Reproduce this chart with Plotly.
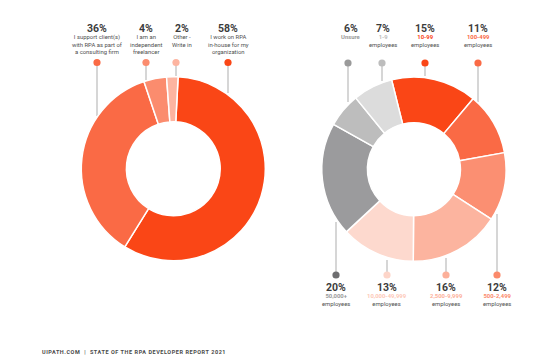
import plotly.graph_objects as go

# ---------------- data ----------------
role_values = [58, 36, 4, 2]
role_pct_text = ["58%", "36%", "4%", "2%"]
role_desc = [
    ["I work on RPA", "in-house for my", "organization"],
    ["I support client(s)", "with RPA as part of", "a consulting firm"],
    ["I am an", "independent", "freelancer"],
    ["Other -", "Write in"],
]
role_colors = ["#FA4616", "#FA6A45", "#FB8C6E", "#FDB4A0"]
role_dot_colors = ["#FA4616", "#FA6A45", "#FB8C6E", "#FDB4A0"]

size_values = [15, 11, 12, 16, 13, 20, 6, 7]
size_pct_text = ["15%", "11%", "12%", "16%", "13%", "20%", "6%", "7%"]
size_ranges = ["10-99", "100-499", "500-2,499", "2,500-9,999",
               "10,000-49,999", "50,000+", "Unsure", "1-9"]
size_unit = ["employees"] * 6 + [""] + ["employees"]
size_colors = ["#FA4616", "#FA6A45", "#FB8F72", "#FCB49F",
               "#FDD9CE", "#9B9B9D", "#BDBDBD", "#DCDCDC"]
size_dot_colors = ["#FA4616", "#FA6A45", "#FB8A6B", "#FCB09A",
                   "#FDD5C9", "#6E6E70", "#9A9A9A", "#BDBDBD"]
size_range_colors = ["#FA4616", "#FA6A45", "#FB8A6B", "#FCB09A",
                     "#FDC9B8", "#9A9A9A", "#9A9A9A", "#BDBDBD"]

footer = "UIPATH.COM  |  STATE OF THE RPA DEVELOPER REPORT 2021"

# ---------------- layout (pixels) ----------------
W, H = 554, 361
FONT = "Roboto"


def px(x):
    return x / W


def py(y):
    return 1 - y / H


# label placement: (text x, dot x, dot y, line end y, side)
role_place = [
    (228, 228, 62.5, 93, "top"),
    (97, 97, 62.5, 116, "top"),
    (146, 146, 62.5, 80, "top"),
    (182, 176, 62.5, 78, "top"),
]
size_place = [
    (425, 425, 63, 76, "top"),
    (478, 478, 63, 102, "top"),
    (497, 497, 275, 214, "bottom"),
    (446, 446, 275, 258, "bottom"),
    (387, 387, 275, 260, "bottom"),
    (336, 336, 275, 222, "bottom"),
    (351, 348, 63, 102, "top"),
    (383, 382, 63, 81, "top"),
]

fig = go.Figure()

fig.add_trace(go.Pie(
    values=role_values,
    marker=dict(colors=role_colors, line=dict(color="white", width=1.5)),
    hole=0.51, sort=False, direction="clockwise", rotation=3,
    textinfo="none", hoverinfo="skip", showlegend=False,
    domain=dict(x=[px(81.3), px(265.3)], y=[py(260.7), py(76.7)]),
))
fig.add_trace(go.Pie(
    values=size_values,
    marker=dict(colors=size_colors, line=dict(color="white", width=1.5)),
    hole=0.505, sort=False, direction="clockwise", rotation=-14,
    textinfo="none", hoverinfo="skip", showlegend=False,
    domain=dict(x=[px(321.8), px(506)], y=[py(261.5), py(77)]),
))

shapes = []
annotations = []
DOT_R = 3.6
DESC_SIZE = 5.9


def add_leader(dx, dy, ey, color):
    shapes.append(dict(type="line", xref="paper", yref="paper",
                       x0=px(dx), x1=px(dx), y0=py(dy), y1=py(ey),
                       line=dict(color="#C8C8C8", width=1.5), layer="below"))
    shapes.append(dict(type="circle", xref="paper", yref="paper",
                       x0=px(dx - DOT_R), x1=px(dx + DOT_R),
                       y0=py(dy + DOT_R), y1=py(dy - DOT_R),
                       fillcolor=color, line=dict(width=0), layer="above"))


def add_text(x, y, text, size, color, bold=False, anchor="center",
             yanchor="middle"):
    t = "<b>%s</b>" % text if bold else text
    annotations.append(dict(x=px(x), y=py(y), xref="paper", yref="paper",
                            text=t, showarrow=False, xanchor=anchor,
                            yanchor=yanchor, borderpad=0,
                            font=dict(family=FONT, size=size, color=color)))


# left donut labels
for i, (tx, dx, dy, ey, side) in enumerate(role_place):
    add_leader(dx, dy, ey, role_dot_colors[i])
    add_text(tx, 28.0, role_pct_text[i], 10.5, "#3C3C3C", bold=True)
    add_text(tx, 32.6, "<br>".join(role_desc[i]), DESC_SIZE, "#4F4F4F",
             yanchor="top")

# right donut labels
for i, (tx, dx, dy, ey, side) in enumerate(size_place):
    add_leader(dx, dy, ey, size_dot_colors[i])
    base = 28.0 if side == "top" else 287.8
    add_text(tx, base, size_pct_text[i], 10.5, "#3C3C3C", bold=True)
    rng = "<span style='color:%s'><b>%s</b></span>" % (size_range_colors[i],
                                                     size_ranges[i])
    if size_unit[i]:
        rng += "<br>" + size_unit[i]
    add_text(tx, base + 4.6, rng, DESC_SIZE, "#4F4F4F", yanchor="top")

# footer
annotations.append(dict(
    x=px(40), y=py(352), xref="paper", yref="paper", showarrow=False,
    xanchor="left", yanchor="middle",
    text="<span style='letter-spacing:0.55px'><b>%s</b></span>" % footer,
    font=dict(family=FONT, size=5.5, color="#4A4A4A")))

fig.update_layout(
    width=W, height=H,
    margin=dict(l=0, r=0, t=0, b=0),
    paper_bgcolor="white", plot_bgcolor="white",
    shapes=shapes, annotations=annotations,
    font=dict(family=FONT),
)

fig.write_html("out.html",
               config={"displayModeBar": False},
               post_script="document.body.style.margin='0';"
                           "document.body.style.overflow='hidden';")
